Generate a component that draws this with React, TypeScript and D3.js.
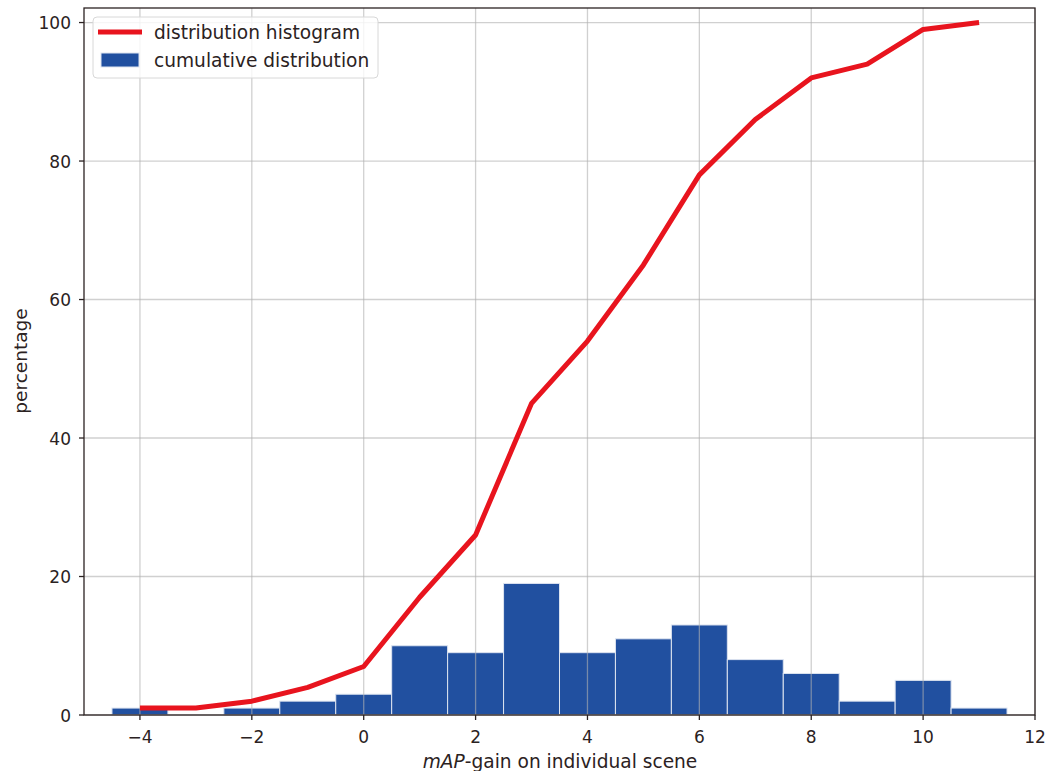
import React from "react";
import * as d3 from "d3";

const binCenters = [-4, -3, -2, -1, 0, 1, 2, 3, 4, 5, 6, 7, 8, 9, 10, 11];
const binValues = [1, 0, 1, 2, 3, 10, 9, 19, 9, 11, 13, 8, 6, 2, 5, 1];
const lineX = [-4, -3, -2, -1, 0, 1, 2, 3, 4, 5, 6, 7, 8, 9, 10, 11];
const lineY = [1, 1, 2, 4, 7, 17, 26, 45, 54, 65, 78, 86, 92, 94, 99, 100];
const xTicks = [-4, -2, 0, 2, 4, 6, 8, 10, 12];
const yTicks = [0, 20, 40, 60, 80, 100];

const W = 1046, H = 771;
const L = 84, R = 1035, T = 8, B = 715;
const FONT = "DejaVu Sans, sans-serif";
const BAR = "#2150a0";
const RED = "#e8141e";
const TXT = "#2b2222";

export default function App() {
  const x = d3.scaleLinear().domain([-5, 12]).range([L, R]);
  const y = d3.scaleLinear().domain([0, 102.1]).range([B, T]);
  const line = d3.line<number>().x((_, i) => x(lineX[i])).y((d) => y(d));
  return (
    <svg width={W} height={H} style={{ position: "absolute", left: 0, top: 0 }}>
      <rect x={0} y={0} width={W} height={H} fill="#fff" />
      {binCenters.map((c, i) =>
        binValues[i] > 0 ? (
          <rect key={i} x={x(c - 0.5)} y={y(binValues[i])} width={x(c + 0.5) - x(c - 0.5)}
            height={y(0) - y(binValues[i])} fill={BAR} stroke="#dde4f0" strokeWidth={1} />
        ) : null
      )}
      {xTicks.map((t) => (
        <line key={"gx" + t} x1={x(t)} x2={x(t)} y1={T} y2={B} stroke="#b0b0b0" strokeOpacity={0.6} strokeWidth={1.3} />
      ))}
      {yTicks.map((t) => (
        <line key={"gy" + t} x1={L} x2={R} y1={y(t)} y2={y(t)} stroke="#b0b0b0" strokeOpacity={0.6} strokeWidth={1.3} />
      ))}
      <path d={line(lineY) || ""} fill="none" stroke={RED} strokeWidth={5} strokeLinejoin="round" />
      <rect x={L} y={T} width={R - L} height={B - T} fill="none" stroke={TXT} strokeWidth={1.3} />
      {xTicks.map((t) => (
        <g key={"tx" + t}>
          <line x1={x(t)} x2={x(t)} y1={B} y2={B + 5} stroke={TXT} strokeWidth={1.3} />
          <text x={x(t)} y={B + 28} textAnchor="middle" fontFamily={FONT} fontSize={17} fill={TXT}>
            {t < 0 ? "\u2212" + Math.abs(t) : String(t)}
          </text>
        </g>
      ))}
      {yTicks.map((t) => (
        <g key={"ty" + t}>
          <line x1={L - 5} x2={L} y1={y(t)} y2={y(t)} stroke={TXT} strokeWidth={1.3} />
          <text x={L - 13} y={y(t) + 6.5} textAnchor="end" fontFamily={FONT} fontSize={17} fill={TXT}>{t}</text>
        </g>
      ))}
      <text x={560} y={768} textAnchor="middle" fontFamily={FONT} fontSize={18.6} fill={TXT}>
        <tspan fontStyle="italic">mAP</tspan>-gain on individual scene
      </text>
      <text transform={`translate(27,361) rotate(-90)`} textAnchor="middle" fontFamily={FONT} fontSize={18.5} fill={TXT}>percentage</text>
      <g>
        <rect x={93} y={17} width={285} height={61} rx={4} fill="#fff" fillOpacity={0.8} stroke="#d8d8d8" strokeWidth={1} />
        <line x1={98} x2={142} y1={32} y2={32} stroke={RED} strokeWidth={5} />
        <text x={154} y={39} fontFamily={FONT} fontSize={18.6} fill={TXT}>distribution histogram</text>
        <rect x={101} y={53} width={38} height={14} fill={BAR} stroke="#dde4f0" strokeWidth={1} />
        <text x={154} y={67} fontFamily={FONT} fontSize={18.6} fill={TXT}>cumulative distribution</text>
      </g>
    </svg>
  );
}
